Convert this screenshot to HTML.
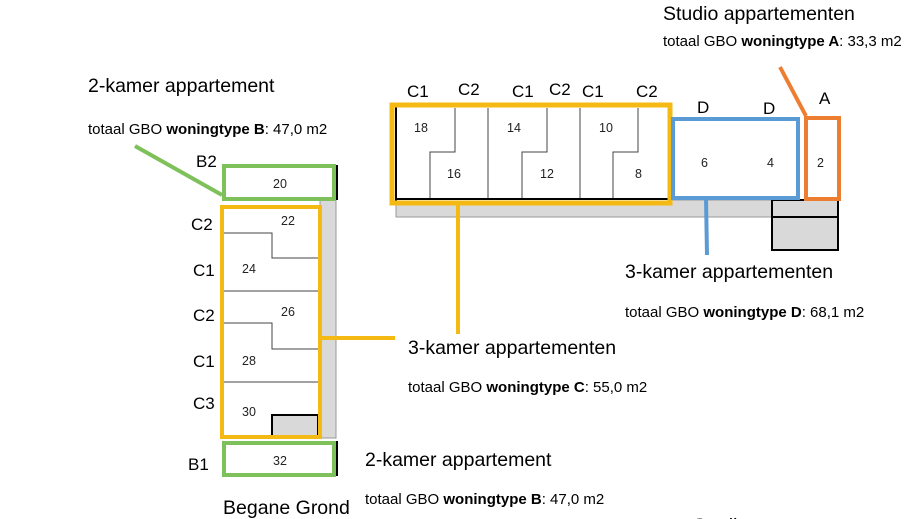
<!DOCTYPE html>
<html><head><meta charset="utf-8"><style>
html,body{margin:0;padding:0;background:#fff;width:920px;height:519px;overflow:hidden}
svg{display:block}
text{font-family:"Liberation Sans",sans-serif;fill:#000}
.big{font-size:17px}
.cap{font-size:19.5px}
.sm{font-size:15px}
.num{font-size:12.5px;fill:#222}
</style></head><body>
<svg width="920" height="519" viewBox="0 0 920 519" xmlns="http://www.w3.org/2000/svg">
<!-- Left building -->
<rect x="320" y="200" width="16" height="238" fill="#d9d9d9" stroke="#999" stroke-width="1"/>
<line x1="337" y1="165" x2="337" y2="200" stroke="#000" stroke-width="2"/>
<rect x="224" y="166" width="110" height="33" fill="#fff" stroke="#7ec05a" stroke-width="4"/>
<rect x="222" y="207" width="98" height="230" fill="#fff"/>
<g stroke="#444" stroke-width="1" fill="none">
<polyline points="224,233 272,233 272,258 318,258"/>
<line x1="224" y1="291" x2="318" y2="291"/>
<polyline points="224,323 272,323 272,349 318,349"/>
<line x1="224" y1="382" x2="318" y2="382"/>
</g>
<rect x="272" y="415" width="46" height="22" fill="#d9d9d9" stroke="#000" stroke-width="2"/>
<rect x="222" y="207" width="98" height="230" fill="none" stroke="#f5b914" stroke-width="4"/>
<line x1="337" y1="441" x2="337" y2="476" stroke="#000" stroke-width="2"/>
<rect x="224" y="443" width="110" height="32" fill="#fff" stroke="#7ec05a" stroke-width="4"/>
<text class="num" x="273" y="188">20</text>
<text class="num" x="281" y="225">22</text>
<text class="num" x="242" y="273">24</text>
<text class="num" x="281" y="316">26</text>
<text class="num" x="242" y="365">28</text>
<text class="num" x="242" y="416">30</text>
<text class="num" x="273" y="465">32</text>
<text class="big" x="196" y="167">B2</text>
<text class="big" x="191" y="230">C2</text>
<text class="big" x="193" y="276">C1</text>
<text class="big" x="193" y="321">C2</text>
<text class="big" x="193" y="367">C1</text>
<text class="big" x="193" y="409">C3</text>
<text class="big" x="188" y="470">B1</text>
<text x="223" y="514" style="font-size:19.5px">Begane Grond</text>
<line x1="135" y1="146" x2="222" y2="195" stroke="#7ec05a" stroke-width="4"/>
<line x1="320" y1="338" x2="395" y2="338" stroke="#f5b914" stroke-width="4"/>

<!-- Top building -->
<rect x="396" y="200" width="376" height="17" fill="#d9d9d9" stroke="#999" stroke-width="1"/>
<rect x="772" y="200" width="66" height="50" fill="#d9d9d9" stroke="#000" stroke-width="2"/>
<line x1="772" y1="217" x2="838" y2="217" stroke="#000" stroke-width="2"/>
<rect x="396" y="106" width="274" height="96" fill="#fff"/>
<line x1="396" y1="106" x2="396" y2="202" stroke="#000" stroke-width="2"/>
<line x1="396" y1="199" x2="672" y2="199" stroke="#000" stroke-width="2"/>
<g stroke="#444" stroke-width="1" fill="none">
<polyline points="455,108 455,152 430,152 430,198"/>
<line x1="488" y1="108" x2="488" y2="198"/>
<polyline points="547,108 547,152 522,152 522,198"/>
<line x1="580" y1="108" x2="580" y2="198"/>
<polyline points="638,108 638,152 613,152 613,198"/>
<line x1="738" y1="120" x2="738" y2="196"/>
</g>
<rect x="392" y="105" width="278" height="98" fill="none" stroke="#f5b914" stroke-width="5"/>
<rect x="673" y="119" width="125" height="79" fill="#fff" stroke="#5b9bd5" stroke-width="4"/>
<rect x="806" y="118" width="33" height="81" fill="#fff" stroke="#ed7d31" stroke-width="4"/>
<line x1="806" y1="116" x2="780" y2="67" stroke="#ed7d31" stroke-width="4"/>
<line x1="458" y1="205" x2="458" y2="334" stroke="#f5b914" stroke-width="4"/>
<line x1="706" y1="198" x2="707" y2="255" stroke="#5b9bd5" stroke-width="4"/>
<text class="num" x="414" y="132">18</text>
<text class="num" x="447" y="178">16</text>
<text class="num" x="507" y="132">14</text>
<text class="num" x="540" y="178">12</text>
<text class="num" x="599" y="132">10</text>
<text class="num" x="635" y="178">8</text>
<text class="num" x="701" y="167">6</text>
<text class="num" x="767" y="167">4</text>
<text class="num" x="817" y="167">2</text>
<text class="big" x="407" y="97">C1</text>
<text class="big" x="458" y="95">C2</text>
<text class="big" x="512" y="97">C1</text>
<text class="big" x="549" y="95">C2</text>
<text class="big" x="582" y="97">C1</text>
<text class="big" x="636" y="97">C2</text>
<text class="big" x="697" y="113">D</text>
<text class="big" x="763" y="114">D</text>
<text class="big" x="819" y="104">A</text>

<!-- Labels -->
<text class="cap" x="663" y="20">Studio appartementen</text>
<text class="sm" x="663" y="46">totaal GBO <tspan font-weight="bold">woningtype A</tspan>: 33,3 m2</text>
<text class="cap" x="88" y="92">2-kamer appartement</text>
<text class="sm" x="88" y="134">totaal GBO <tspan font-weight="bold">woningtype B</tspan>: 47,0 m2</text>
<text class="cap" x="625" y="278">3-kamer appartementen</text>
<text class="sm" x="625" y="317">totaal GBO <tspan font-weight="bold">woningtype D</tspan>: 68,1 m2</text>
<text class="cap" x="408" y="354">3-kamer appartementen</text>
<text class="sm" x="408" y="392">totaal GBO <tspan font-weight="bold">woningtype C</tspan>: 55,0 m2</text>
<text class="cap" x="365" y="466">2-kamer appartement</text>
<text class="sm" x="365" y="504">totaal GBO <tspan font-weight="bold">woningtype B</tspan>: 47,0 m2</text>
<text class="cap" x="693" y="532">Studio appartementen</text>
</svg>
</body></html>
